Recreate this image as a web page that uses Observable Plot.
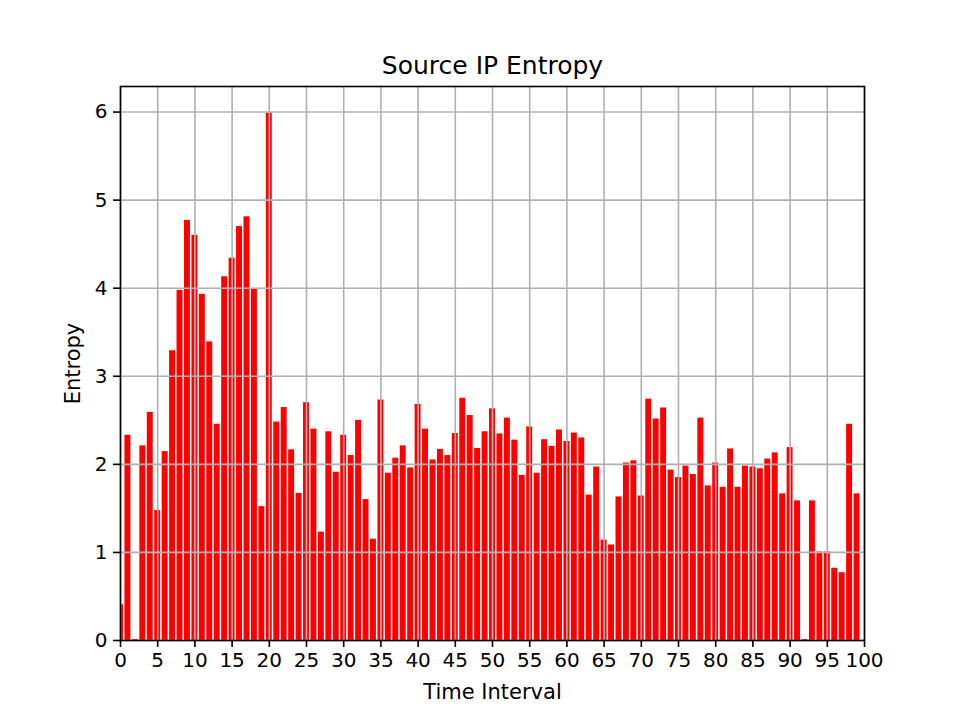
<!DOCTYPE html>
<html>
<head>
<meta charset="utf-8">
<script src="https://cdn.jsdelivr.net/npm/d3@7"></script>
<script src="https://cdn.jsdelivr.net/npm/@observablehq/plot@0.6"></script>
<style>
  html, body { margin: 0; padding: 0; background: #fff; }
</style>
</head>
<body>
<div id="chart"></div>
<script>
const titleText = "Source IP Entropy";
const xLabel = "Time Interval";
const yLabel = "Entropy";
const xTicks = [0,5,10,15,20,25,30,35,40,45,50,55,60,65,70,75,80,85,90,95,100];
const yTicks = [0,1,2,3,4,5,6];
const entropy = [
  0.405, 2.33, 0.01, 2.21, 2.59, 1.475, 2.145, 3.29, 3.975, 4.77,
  4.60, 3.93, 3.39, 2.455, 4.13, 4.34, 4.70, 4.81, 3.99, 1.52,
  5.99, 2.48, 2.645, 2.165, 1.67, 2.70, 2.40, 1.23, 2.37, 1.91,
  2.33, 2.10, 2.50, 1.60, 1.15, 2.73, 1.90, 2.07, 2.21, 1.96,
  2.68, 2.40, 2.05, 2.17, 2.10, 2.35, 2.75, 2.555, 2.18, 2.37,
  2.63, 2.345, 2.525, 2.275, 1.875, 2.425, 1.90, 2.28, 2.205, 2.39,
  2.26, 2.355, 2.30, 1.65, 1.97, 1.14, 1.085, 1.63, 2.015, 2.04,
  1.64, 2.74, 2.515, 2.64, 1.935, 1.85, 1.98, 1.885, 2.525, 1.755,
  2.015, 1.74, 2.175, 1.74, 1.98, 1.97, 1.95, 2.06, 2.13, 1.665,
  2.19, 1.585, 0.01, 1.585, 1.005, 1.005, 0.82, 0.77, 2.455, 1.665
];
const barWidth = 0.8;
const data = entropy.map((v, i) => ({i, v}));

const chart = Plot.plot({
  width: 960,
  height: 720,
  marginLeft: 120,
  marginRight: 96,
  marginTop: 86,
  marginBottom: 80,
  style: {fontFamily: "DejaVu Sans", fontSize: "20px", color: "black", background: "white"},
  x: {domain: [0, 100]},
  y: {domain: [0, 6.29]},
  marks: [
    Plot.rectY(data, {x1: d => d.i - barWidth / 2, x2: d => d.i + barWidth / 2, y: "v", fill: "red", clip: true}),
    Plot.gridX(xTicks, {stroke: "#b0b0b0", strokeOpacity: 1, strokeWidth: 1.6}),
    Plot.gridY(yTicks, {stroke: "#b0b0b0", strokeOpacity: 1, strokeWidth: 1.6}),
    Plot.frame({stroke: "black", strokeWidth: 1.6}),
    Plot.axisX(xTicks, {tickSize: 7, tickPadding: 5, label: null, fontSize: 20, strokeWidth: 1.6, tickFormat: "d"}),
    Plot.axisY(yTicks, {tickSize: 7, tickPadding: 6, label: null, fontSize: 20, strokeWidth: 1.6, tickFormat: "d"}),
    Plot.text([titleText], {frameAnchor: "top", dy: -30, text: d => d, fontSize: 25, fill: "black", textAnchor: "middle"}),
    Plot.text([xLabel], {frameAnchor: "bottom", dy: 58, text: d => d, fontSize: 21, fill: "black", textAnchor: "middle"}),
    Plot.text([yLabel], {frameAnchor: "left", dx: -47, rotate: -90, text: d => d, fontSize: 21, fill: "black", textAnchor: "middle"})
  ]
});
document.getElementById("chart").appendChild(chart);
</script>
</body>
</html>
